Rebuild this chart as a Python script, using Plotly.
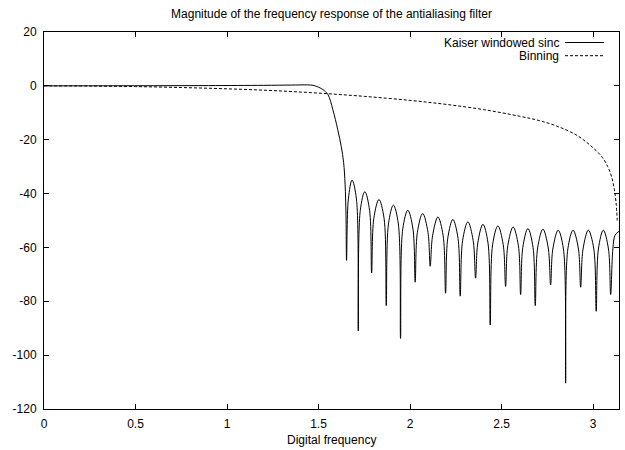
import plotly.graph_objects as go

# ---- data ----
kaiser_x = [
    0.0, 0.3, 0.6, 0.9, 1.2, 1.35, 1.44, 1.47, 1.50, 1.524, 1.551, 1.578, 1.605, 1.624, 1.637, 1.645, 1.650,
    1.653, 1.663, 1.683, 1.707,
    1.717, 1.728, 1.753, 1.779,
    1.790, 1.802, 1.830, 1.858,
    1.870, 1.882, 1.909, 1.936,
    1.948, 1.960, 1.988, 2.016,
    2.028, 2.040, 2.069, 2.098,
    2.110, 2.123, 2.152, 2.181,
    2.194, 2.206, 2.234, 2.262,
    2.274, 2.287, 2.316, 2.345,
    2.358, 2.370, 2.398, 2.426,
    2.438, 2.451, 2.480, 2.509,
    2.522, 2.534, 2.563, 2.592,
    2.604, 2.616, 2.644, 2.672,
    2.684, 2.697, 2.726, 2.755,
    2.768, 2.780, 2.809, 2.838,
    2.850, 2.862, 2.891, 2.920,
    2.932, 2.945, 2.974, 3.004,
    3.017, 3.029, 3.056, 3.084,
    3.096, 3.108, 3.120, 3.1416,
]
kaiser_db = [
    0.0, 0.02, 0.05, 0.1, 0.2, 0.3, 0.35, 0.2, -0.5, -1.4, -3.2, -8.8, -16.3, -22.5, -28.5, -36.5, -48.0,
    -64.8, -42.0, -35.0, -42.0,
    -91.0, -46.3, -39.3, -46.3,
    -69.5, -49.2, -42.2, -49.2,
    -81.6, -51.3, -44.3, -51.3,
    -93.8, -53.2, -46.2, -53.2,
    -72.9, -54.4, -47.4, -54.4,
    -67.0, -55.7, -48.7, -55.7,
    -77.0, -56.6, -49.6, -56.6,
    -78.1, -57.5, -50.5, -57.5,
    -71.4, -58.4, -51.4, -58.4,
    -88.8, -59.0, -52.0, -59.0,
    -74.5, -59.4, -52.4, -59.4,
    -77.5, -60.0, -53.0, -60.0,
    -81.6, -60.2, -53.2, -60.2,
    -73.9, -60.6, -53.6, -60.6,
    -110.4, -60.6, -53.6, -60.6,
    -74.8, -60.6, -53.6, -60.6,
    -83.7, -60.6, -53.6, -60.6,
    -77.5, -60.6, -55.5, -54.0,
]

binning_x = [0.0, 0.25, 0.5, 0.75, 1.0, 1.25, 1.5, 1.75, 2.0, 2.2, 2.4, 2.6, 2.7, 2.8,
             2.9, 2.95, 3.0, 3.05, 3.08, 3.10, 3.115, 3.125, 3.132]
binning_db = [0.0, -0.07, -0.27, -0.62, -1.1, -1.75, -2.7, -3.9, -5.4, -6.9, -8.8, -11.3, -12.8, -14.9,
              -17.9, -20.2, -23.0, -26.5, -30.0, -33.5, -38.0, -43.0, -50.0]

x_ticks = [0, 0.5, 1, 1.5, 2, 2.5, 3]
x_tick_labels = ["0", "0.5", "1", "1.5", "2", "2.5", "3"]
y_ticks = [20, 0, -20, -40, -60, -80, -100, -120]
y_tick_labels = ["20", "0", "-20", "-40", "-60", "-80", "-100", "-120"]

title_text = "Magnitude of the frequency response of the antialiasing filter"
x_title = "Digital frequency"
series_names = ["Kaiser windowed sinc", "Binning"]

FONT = "Liberation Sans, Arial, Helvetica, sans-serif"

fig = go.Figure()
fig.add_trace(go.Scatter(x=kaiser_x, y=kaiser_db, mode="lines", name=series_names[0],
                         line=dict(color="black", width=1, shape="spline", smoothing=1.0),
                         showlegend=False))
fig.add_trace(go.Scatter(x=binning_x, y=binning_db, mode="lines", name=series_names[1],
                         line=dict(color="black", width=1, dash="3px,2px", shape="spline"),
                         showlegend=False))

L, R, T, B = 44, 6, 32, 41
W, H = 625, 450
pw, ph = W - L - R, H - T - B

def px_to_paper_x(px):
    return (px - L) / pw

def px_to_paper_y(py):
    return (H - B - py) / ph

# manual gnuplot-style legend (text left of the line sample)
legend_rows = [(42.5, None), (55.7, "3px,2px")]
for (py, dash), name in zip(legend_rows, series_names):
    fig.add_annotation(x=px_to_paper_x(561), y=px_to_paper_y(py), xref="paper", yref="paper",
                       text=name, showarrow=False, xanchor="right", yanchor="middle",
                       font=dict(family=FONT, size=12, color="black"))
    fig.add_shape(type="line", xref="paper", yref="paper",
                  x0=px_to_paper_x(565), x1=px_to_paper_x(604),
                  y0=px_to_paper_y(py), y1=px_to_paper_y(py),
                  line=dict(color="black", width=1, dash=dash if dash else "solid"))

fig.add_annotation(x=0.5, y=px_to_paper_y(440), xref="paper", yref="paper", text=x_title,
                   showarrow=False, xanchor="center", yanchor="middle",
                   font=dict(family=FONT, size=12, color="black"))

fig.update_layout(
    width=W, height=H,
    margin=dict(l=L, r=R, t=T, b=B),
    paper_bgcolor="white", plot_bgcolor="white",
    font=dict(family=FONT, size=12, color="black"),
    title=dict(text=title_text, x=(L + 0.5 * pw) / W, xanchor="center",
               y=1 - 13.5 / H, yanchor="middle",
               font=dict(family=FONT, size=12, color="black")),
    showlegend=False,
)
fig.update_xaxes(range=[0, 3.14159265], tickvals=x_ticks, ticktext=x_tick_labels,
                 ticks="inside", ticklen=5, tickcolor="black", tickwidth=1,
                 showline=True, linecolor="black", linewidth=1, mirror="ticks",
                 showgrid=False, zeroline=False, ticklabelstandoff=4)
fig.update_yaxes(range=[-120, 20], tickvals=y_ticks, ticktext=y_tick_labels,
                 ticks="inside", ticklen=5, tickcolor="black", tickwidth=1,
                 showline=True, linecolor="black", linewidth=1, mirror="ticks",
                 showgrid=False, zeroline=False, ticklabelstandoff=4)

fig.write_html("out.html",
               config={"displayModeBar": False},
               post_script="document.body.style.margin='0';document.body.style.overflow='hidden';")
